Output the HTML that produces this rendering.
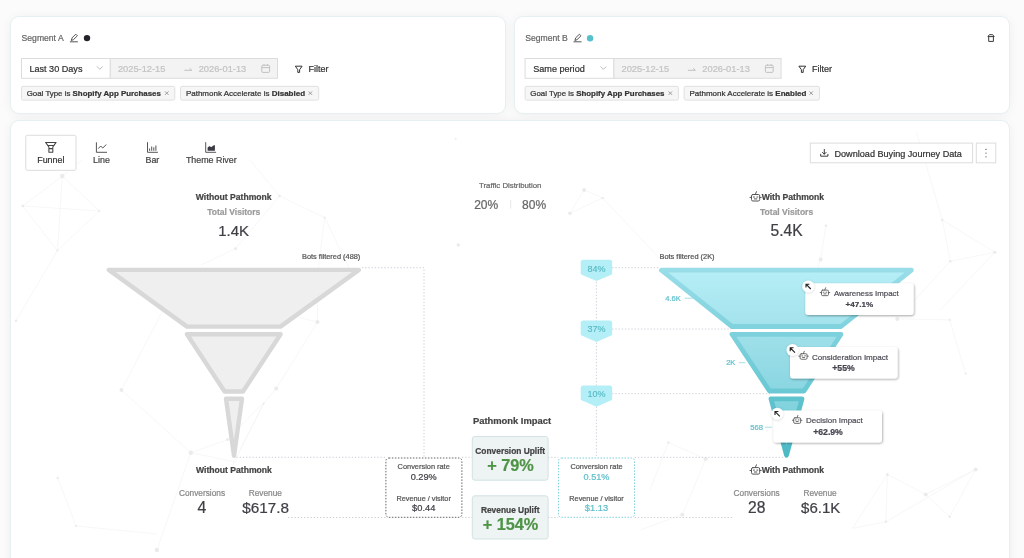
<!DOCTYPE html>
<html><head><meta charset="utf-8">
<style>
html,body{margin:0;padding:0;width:1024px;height:558px;overflow:hidden;background:#fbfbfb;font-family:"Liberation Sans",sans-serif;}
.card{position:absolute;background:#fff;border-radius:8px;box-shadow:0 0 0 1px #e6eff1,0 1px 12px rgba(0,0,0,0.06);}
svg{position:absolute;left:0;top:0;will-change:transform;}
text{font-family:"Liberation Sans",sans-serif;}
</style></head><body>
<div class="card" style="left:11px;top:17px;width:494px;height:95.5px;"></div>
<div class="card" style="left:515px;top:17px;width:493.5px;height:95.5px;"></div>
<div class="card" style="left:11px;top:121px;width:997.5px;height:460px;"></div>
<svg width="1024" height="558" viewBox="0 0 1024 558">
<defs>
  <g id="robot" fill="none" stroke="#555" stroke-width="1" stroke-linecap="round" stroke-linejoin="round">
    <rect x="2" y="3.2" width="8.2" height="6.5" rx="1.4"/>
    <path d="M5.8 3.2L6.9 0.4"/>
    <path d="M0.5 6.1h1.3M10.4 6.1h1.3"/>
    <path d="M3.9 5.7h1M7.3 5.7h1"/>
    <path d="M4.9 7.6h2.4"/>
  </g>
  <linearGradient id="t1" x1="0" y1="0" x2="0" y2="1"><stop offset="0" stop-color="#b6eef6"/><stop offset="1" stop-color="#a3e2ec"/></linearGradient>
  <linearGradient id="t2" x1="0" y1="0" x2="0" y2="1"><stop offset="0" stop-color="#9fe0ea"/><stop offset="1" stop-color="#8ad6e1"/></linearGradient>
  <linearGradient id="t3" x1="0" y1="0" x2="0" y2="1"><stop offset="0" stop-color="#86d5df"/><stop offset="1" stop-color="#6cc9d4"/></linearGradient>
  <filter id="tsh" x="-20%" y="-30%" width="140%" height="170%"><feDropShadow dx="0.7" dy="1" stdDeviation="0.9" flood-color="#000" flood-opacity="0.35"/></filter>
  <filter id="csh" x="-50%" y="-50%" width="200%" height="200%"><feDropShadow dx="0" dy="0.5" stdDeviation="0.8" flood-color="#000" flood-opacity="0.2"/></filter>
</defs>

<!-- ============ CARD A ============ -->
<text x="21.6" y="41.4" font-size="8.6" fill="#666" stroke="#666" stroke-width="0.22">Segment A</text>
<g fill="none" stroke="#444" stroke-width="0.9" stroke-linecap="round" stroke-linejoin="round">
  <path d="M71.4 40.1l.7-2.3 3.7-3.6 1.6 1.6-3.7 3.6z"/>
  <path d="M70.3 41.8h7.2"/>
</g>
<circle cx="87" cy="38.1" r="3.2" fill="#23232b"/>
<rect x="21.5" y="58.5" width="88.8" height="19.8" fill="#fff" stroke="#dcdcdc" stroke-width="1"/>
<text x="29.4" y="71.9" font-size="9.1" fill="#333" stroke="#333" stroke-width="0.22">Last 30 Days</text>
<path d="M97 66.5l2.8 2.8 2.8-2.8" fill="none" stroke="#aaa" stroke-width="0.8"/>
<rect x="110.3" y="58.5" width="167.2" height="19.8" fill="#f3f3f3" stroke="#dcdcdc" stroke-width="1"/>
<text x="117.9" y="71.8" font-size="9.3" fill="#c3c3c3" stroke="#c3c3c3" stroke-width="0.22">2025-12-15</text>
<path d="M184.3 70.3h7.5M189.5 68.3l2.3 2" fill="none" stroke="#bbb" stroke-width="0.9"/>
<text x="198.7" y="71.8" font-size="9.3" fill="#c3c3c3" stroke="#c3c3c3" stroke-width="0.22">2026-01-13</text>
<g fill="none" stroke="#bbb" stroke-width="0.9"><rect x="261.8" y="65.2" width="7.8" height="7.2" rx="1"/><path d="M261.8 67.6h7.8M264 64.3v1.6M267.4 64.3v1.6"/></g>
<path d="M295.3 66.2h6.8l-2.5 3.5v2.7h-1.8v-2.7z" fill="none" stroke="#333" stroke-width="1" stroke-linejoin="round"/>
<text x="308.4" y="72" font-size="9" fill="#333" stroke="#333" stroke-width="0.22">Filter</text>
<rect x="21.5" y="86.3" width="153.3" height="13.8" fill="#f6f6f6" stroke="#e0e0e0" stroke-width="1" rx="1.5"/>
<text x="26.7" y="96.2" font-size="7.9" fill="#333" stroke="#333" stroke-width="0.22">Goal Type is <tspan font-weight="bold">Shopify App Purchases</tspan></text>
<path d="M165 91.4l3.5 3.5M168.5 91.4l-3.5 3.5" stroke="#888" stroke-width="0.8"/>
<rect x="180.5" y="86.3" width="138.2" height="13.8" fill="#f6f6f6" stroke="#e0e0e0" stroke-width="1" rx="1.5"/>
<text x="185.9" y="96.2" font-size="8" fill="#333" stroke="#333" stroke-width="0.22">Pathmonk Accelerate is <tspan font-weight="bold">Disabled</tspan></text>
<path d="M308.6 91.4l3.5 3.5M312.1 91.4l-3.5 3.5" stroke="#888" stroke-width="0.8"/>

<!-- ============ CARD B ============ -->
<g transform="translate(503.6,0)">
<text x="21.6" y="41.4" font-size="8.6" fill="#666" stroke="#666" stroke-width="0.22">Segment B</text>
<g fill="none" stroke="#444" stroke-width="0.9" stroke-linecap="round" stroke-linejoin="round">
  <path d="M71.4 40.1l.7-2.3 3.7-3.6 1.6 1.6-3.7 3.6z"/>
  <path d="M70.3 41.8h7.2"/>
</g>
<circle cx="86.5" cy="38.3" r="3.2" fill="#56c0cc"/>
<rect x="21.5" y="58.5" width="88.8" height="19.8" fill="#fff" stroke="#dcdcdc" stroke-width="1"/>
<text x="29.6" y="71.9" font-size="9.1" fill="#333" stroke="#333" stroke-width="0.22">Same period</text>
<path d="M97 66.5l2.8 2.8 2.8-2.8" fill="none" stroke="#aaa" stroke-width="0.8"/>
<rect x="110.3" y="58.5" width="167.2" height="19.8" fill="#f3f3f3" stroke="#dcdcdc" stroke-width="1"/>
<text x="117.9" y="71.8" font-size="9.3" fill="#c3c3c3" stroke="#c3c3c3" stroke-width="0.22">2025-12-15</text>
<path d="M184.3 70.3h7.5M189.5 68.3l2.3 2" fill="none" stroke="#bbb" stroke-width="0.9"/>
<text x="198.7" y="71.8" font-size="9.3" fill="#c3c3c3" stroke="#c3c3c3" stroke-width="0.22">2026-01-13</text>
<g fill="none" stroke="#bbb" stroke-width="0.9"><rect x="261.8" y="65.2" width="7.8" height="7.2" rx="1"/><path d="M261.8 67.6h7.8M264 64.3v1.6M267.4 64.3v1.6"/></g>
<path d="M295.3 66.2h6.8l-2.5 3.5v2.7h-1.8v-2.7z" fill="none" stroke="#333" stroke-width="1" stroke-linejoin="round"/>
<text x="308.4" y="72" font-size="9" fill="#333" stroke="#333" stroke-width="0.22">Filter</text>
<rect x="21.5" y="86.3" width="153.3" height="13.8" fill="#f6f6f6" stroke="#e0e0e0" stroke-width="1" rx="1.5"/>
<text x="26.7" y="96.2" font-size="7.9" fill="#333" stroke="#333" stroke-width="0.22">Goal Type is <tspan font-weight="bold">Shopify App Purchases</tspan></text>
<path d="M165 91.4l3.5 3.5M168.5 91.4l-3.5 3.5" stroke="#888" stroke-width="0.8"/>
<rect x="180.5" y="86.3" width="135.4" height="13.8" fill="#f6f6f6" stroke="#e0e0e0" stroke-width="1" rx="1.5"/>
<text x="185.9" y="96.2" font-size="8" fill="#333" stroke="#333" stroke-width="0.22">Pathmonk Accelerate is <tspan font-weight="bold">Enabled</tspan></text>
<path d="M305.8 91.4l3.5 3.5M309.3 91.4l-3.5 3.5" stroke="#888" stroke-width="0.8"/>
</g>
<g fill="none" stroke="#3a3a3a" stroke-width="1" stroke-linejoin="round">
  <path d="M987.9 36.6l1.5-1.9h3.3l1.5 1.9z"/>
  <path d="M988.7 36.6v4.8h4.7v-4.8"/>
</g>


<!-- ============ NETWORK BG ============ -->
<g stroke="#f3f3f3" stroke-width="0.7" fill="none">
  <path d="M62.3 176.1L22.7 205.9L99.4 211L62.3 176.1L57.4 250.6L22.7 205.9M99.4 211L57.4 250.6L16 320.7M62.3 176.1L82 160"/>
  <path d="M235.6 248.6L201 265M235.6 248.6L279.6 196L324.7 217.6L318 270M279.6 196L250 160M324.7 217.6L350 270"/>
  <path d="M121.4 390L161.7 312.6L185 280M121.4 390L190.8 452.7L227.6 439.6L262 404M190.8 452.7L157 550M57.7 477.9L76.1 526L157 534M190.8 452.7L236 462"/>
  <path d="M317.5 322.1L317.5 295M317.5 322.1L299.4 317.7M317.5 322.1L276.2 388.6L263.6 403.6L240 450M263.6 403.6L230 470"/>
  <path d="M584.1 189.9L602.7 198L569.9 213.3L584.1 189.9M602.7 198L661 259.8"/>
  <path d="M826 225.8L820.6 259.4L815 275M942.3 220L994.8 252.3L950.3 261.3L942.3 220L916.5 132.3M950.3 261.3L914.8 300M994.8 252.3L940 310"/>
  <path d="M897.3 318.9L949.7 319.9L965.6 373.7M887.4 474.4L925.7 494.4L975.6 469.4L949.7 516.8L925.7 494.4M887.4 474.4L885.9 521.8L975.6 469.4M852.5 528.3L887.4 474.4M885.9 521.8L852.5 528.3"/>
  <path d="M705.7 458.9L682.3 514.7L640 530M668.3 442.5L705.7 458.9M668.3 442.5L650 490"/>
</g>
<g fill="#ebebeb">
  <circle cx="62.3" cy="176.1" r="2.3"/><circle cx="22.7" cy="205.9" r="1.3"/><circle cx="99.4" cy="211" r="1.1"/><circle cx="57.4" cy="250.6" r="1.1"/>
  <circle cx="235.6" cy="248.6" r="1.5"/><circle cx="279.6" cy="196" r="1.3"/><circle cx="324.7" cy="217.6" r="1.1"/><circle cx="455.6" cy="138.8" r="1"/><circle cx="458.3" cy="245" r="1.8"/>
  <circle cx="121.4" cy="390" r="1.9"/><circle cx="16" cy="320.7" r="1.2"/><circle cx="190.8" cy="452.7" r="2.2"/><circle cx="227.6" cy="439.6" r="1.4"/><circle cx="57.7" cy="477.9" r="1.2"/><circle cx="76.1" cy="526" r="1.1"/><circle cx="156.9" cy="550" r="2.2"/>
  <circle cx="317.5" cy="322.1" r="2"/><circle cx="276.2" cy="388.6" r="2"/><circle cx="263.6" cy="403.6" r="1.1"/>
  <circle cx="584.1" cy="189.9" r="2"/><circle cx="602.7" cy="198" r="1.2"/><circle cx="569.9" cy="213.3" r="1.8"/>
  <circle cx="826" cy="225.8" r="1.3"/><circle cx="820.6" cy="259.4" r="2"/><circle cx="942.3" cy="220" r="1.3"/><circle cx="994.8" cy="252.3" r="1.5"/><circle cx="950.3" cy="261.3" r="1.3"/>
  <circle cx="897.3" cy="318.9" r="2"/><circle cx="949.7" cy="319.9" r="1.1"/><circle cx="965.6" cy="373.7" r="1.1"/><circle cx="887.4" cy="474.4" r="1.5"/><circle cx="925.7" cy="494.4" r="2"/><circle cx="975.6" cy="469.4" r="2"/><circle cx="949.7" cy="516.8" r="1.2"/><circle cx="885.9" cy="521.8" r="1.2"/>
  <circle cx="705.7" cy="458.9" r="2"/><circle cx="682.3" cy="514.7" r="2"/><circle cx="668.3" cy="442.5" r="1.2"/>
</g>

<!-- ============ MAIN CARD ============ -->
<!-- tabs -->
<rect x="25.8" y="135.3" width="50.2" height="35" rx="1.5" fill="#fff" stroke="#dcdcdc" stroke-width="1"/>
<g fill="none" stroke="#444" stroke-width="1.05" stroke-linejoin="round">
  <path d="M45.6 142.4h10.5l-3.3 4.6v5.2h-3.9v-5.2z"/>
  <path d="M47.6 145.4h6.5M49 148.6h3.7"/>
</g>
<text x="50.8" y="162.6" font-size="8.9" fill="#333" text-anchor="middle" stroke="#333" stroke-width="0.22">Funnel</text>
<g fill="none" stroke="#555" stroke-width="1">
  <path d="M96.4 142.3v10h10.6"/>
  <path d="M98.3 148.6l2.4-2.6 2 2 3.7-3.5"/>
</g>
<text x="101.5" y="162.6" font-size="8.9" fill="#444" text-anchor="middle" stroke="#444" stroke-width="0.22">Line</text>
<g fill="none" stroke="#555" stroke-width="1">
  <path d="M147.5 142.2v10.1h10.4"/>
  <path d="M149.6 148.5v2.3M151.7 146.5v4.3M153.8 147.3v3.5M155.9 145.5v5.3"/>
</g>
<text x="152.4" y="162.6" font-size="8.9" fill="#444" text-anchor="middle" stroke="#444" stroke-width="0.22">Bar</text>
<g fill="none" stroke="#555" stroke-width="1"><path d="M205.7 142.2v10.1h10.4"/></g>
<path d="M207.6 150.8v-3.3l2-1.5 1.6 1.3 1.8-1.6 1.9-.8v5.9z" fill="#3a3a44"/>
<text x="211.3" y="162.6" font-size="8.9" fill="#444" text-anchor="middle" stroke="#444" stroke-width="0.22">Theme River</text>

<!-- download button -->
<rect x="810.3" y="143.1" width="162.3" height="19.7" fill="#fff" stroke="#dcdcdc" stroke-width="1"/>
<g fill="none" stroke="#333" stroke-width="0.95" stroke-linecap="round" stroke-linejoin="round">
  <path d="M824.3 149.4v4.8M822.5 152.4l1.8 1.8 1.8-1.8M820.7 154.3v1.9h7.2v-1.9"/>
</g>
<text x="834.5" y="156.9" font-size="9.1" fill="#333" stroke="#333" stroke-width="0.22">Download Buying Journey Data</text>
<rect x="976.3" y="143.1" width="19.5" height="19.7" fill="#fff" stroke="#dcdcdc" stroke-width="1"/>
<g fill="#555"><circle cx="986" cy="149.4" r="0.65"/><circle cx="986" cy="153.1" r="0.65"/><circle cx="986" cy="156.8" r="0.65"/></g>

<!-- headers -->
<text x="233.7" y="200.2" font-size="8.6" font-weight="bold" fill="#444" text-anchor="middle" stroke="#444" stroke-width="0.22">Without Pathmonk</text>
<text x="233.8" y="215.1" font-size="8.5" font-weight="bold" fill="#9b9b9b" text-anchor="middle" stroke="#9b9b9b" stroke-width="0.22">Total Visitors</text>
<text x="233.6" y="235.8" font-size="15" fill="#3f3f46" text-anchor="middle" stroke="#3f3f46" stroke-width="0.22">1.4K</text>

<use href="#robot" x="749.5" y="191.3"/>
<text x="761.7" y="200" font-size="8.6" font-weight="bold" fill="#444" stroke="#444" stroke-width="0.22">With Pathmonk</text>
<text x="786.6" y="215.1" font-size="8.5" font-weight="bold" fill="#9b9b9b" text-anchor="middle" stroke="#9b9b9b" stroke-width="0.22">Total Visitors</text>
<text x="786.5" y="236.1" font-size="15.6" fill="#3f3f46" text-anchor="middle" stroke="#3f3f46" stroke-width="0.22">5.4K</text>

<text x="510.2" y="188" font-size="7.8" fill="#666" text-anchor="middle" stroke="#666" stroke-width="0.22">Traffic Distribution</text>
<text x="486.2" y="208.7" font-size="12" fill="#666" text-anchor="middle" stroke="#666" stroke-width="0.22">20%</text>
<text x="534.1" y="208.7" font-size="12" fill="#666" text-anchor="middle" stroke="#666" stroke-width="0.22">80%</text>
<path d="M510.7 200v8.5" stroke="#e6e6e6" stroke-width="1"/>

<text x="302" y="259.2" font-size="7.4" fill="#555" stroke="#555" stroke-width="0.22">Bots filtered (488)</text>
<text x="659.5" y="259.2" font-size="7.4" fill="#555" stroke="#555" stroke-width="0.22">Bots filtered (2K)</text>

<!-- dotted lines -->
<g fill="none" stroke="#ceced8" stroke-width="1" stroke-dasharray="1.3 1.9">
  <path d="M362 267.7H424V457.3"/>
  <path d="M236.5 457.3H385.5M462 457.3H472M548 457.3H558.3M634.7 457.3H786"/>
  <path d="M288 517.5H385.5M462 517.5H472M548 517.5H558.3M634.7 517.5H732"/>
  <path d="M612.2 267.7H660M612.2 329H731M612.2 393.7H770"/>
  <path d="M596.4 282V457.3"/>
</g>

<!-- gray funnel -->
<g fill="#efefef" stroke="#d8d8d8" stroke-width="4.4" stroke-linejoin="round">
  <path d="M108.8 269.9H358.9L280.5 326.6H187z"/>
  <path d="M187 334.2H280.6L243 391.5H224.6z"/>
  <path d="M226 398.7H242L234 455.8z"/>
</g>

<!-- teal funnel -->
<linearGradient id="s1" x1="0" y1="0" x2="0" y2="1"><stop offset="0" stop-color="#98dde8"/><stop offset="1" stop-color="#80d3de"/></linearGradient>
<linearGradient id="s2" x1="0" y1="0" x2="0" y2="1"><stop offset="0" stop-color="#7dd1dc"/><stop offset="1" stop-color="#6ac9d4"/></linearGradient>
<linearGradient id="s3" x1="0" y1="0" x2="0" y2="1"><stop offset="0" stop-color="#5fc3ce"/><stop offset="1" stop-color="#4cb9c5"/></linearGradient>
<g stroke-width="4.8" stroke-linejoin="round">
  <path d="M661.4 270.2H911.4L841 326.5H732z" fill="url(#t1)" stroke="url(#s1)"/>
  <path d="M732 334.3H841L804 391H769.5z" fill="url(#t2)" stroke="url(#s2)"/>
  <path d="M771 398.8H802L786.5 455.2z" fill="url(#t3)" stroke="url(#s3)"/>
</g>

<!-- teal labels -->
<text x="673" y="300.8" font-size="7.6" fill="#5fc0cb" text-anchor="middle" stroke="#5fc0cb" stroke-width="0.22">4.6K</text>
<path d="M684.5 298.2h8.5" stroke="#9fdce5" stroke-width="0.9"/>
<text x="730.8" y="365.2" font-size="7.6" fill="#5fc0cb" text-anchor="middle" stroke="#5fc0cb" stroke-width="0.22">2K</text>
<path d="M738.9 362.7h6.5" stroke="#9fdce5" stroke-width="0.9"/>
<text x="756.7" y="429.6" font-size="7.6" fill="#5fc0cb" text-anchor="middle" stroke="#5fc0cb" stroke-width="0.22">568</text>
<path d="M765 427.2h7" stroke="#9fdce5" stroke-width="0.9"/>

<!-- badges -->
<g fill="#b4eef6">
  <path d="M583.2 259.8H609.7A2.5 2.5 0 0 1 612.2 262.3V273.1Q612.2 274.2 611.2 274.7L596.45 281.1L581.7 274.7Q580.7 274.2 580.7 273.1V262.3A2.5 2.5 0 0 1 583.2 259.8z"/>
  <path d="M583.2 320.6H609.7A2.5 2.5 0 0 1 612.2 323.1V333.9Q612.2 335.0 611.2 335.5L596.45 341.9L581.7 335.5Q580.7 335.0 580.7 333.9V323.1A2.5 2.5 0 0 1 583.2 320.6z"/>
  <path d="M583.2 385.4H609.7A2.5 2.5 0 0 1 612.2 387.9V398.7Q612.2 399.8 611.2 400.3L596.45 406.7L581.7 400.3Q580.7 399.8 580.7 398.7V387.9A2.5 2.5 0 0 1 583.2 385.4z"/>
</g>
<g font-size="9" fill="#55b9c4" stroke="#55b9c4" stroke-width="0.12" text-anchor="middle">
  <text x="596.4" y="271.5">84%</text>
  <text x="596.4" y="332.3">37%</text>
  <text x="596.4" y="397">10%</text>
</g>

<!-- bottom stats -->
<text x="234" y="472.7" font-size="8.6" font-weight="bold" fill="#444" text-anchor="middle" stroke="#444" stroke-width="0.22">Without Pathmonk</text>
<text x="202" y="496" font-size="8.3" fill="#888" text-anchor="middle" stroke="#888" stroke-width="0.22">Conversions</text>
<text x="265.3" y="496" font-size="8.3" fill="#888" text-anchor="middle" stroke="#888" stroke-width="0.22">Revenue</text>
<text x="202" y="512.8" font-size="15.8" fill="#3f3f46" text-anchor="middle" stroke="#3f3f46" stroke-width="0.22">4</text>
<text x="265.7" y="512.8" font-size="15.3" fill="#3f3f46" text-anchor="middle" stroke="#3f3f46" stroke-width="0.22">$617.8</text>

<use href="#robot" x="749.5" y="464.4"/>
<text x="761.7" y="472.8" font-size="8.6" font-weight="bold" fill="#444" stroke="#444" stroke-width="0.22">With Pathmonk</text>
<text x="756.6" y="495.8" font-size="8.3" fill="#888" text-anchor="middle" stroke="#888" stroke-width="0.22">Conversions</text>
<text x="820.1" y="495.8" font-size="8.3" fill="#888" text-anchor="middle" stroke="#888" stroke-width="0.22">Revenue</text>
<text x="756.7" y="512.7" font-size="15.6" fill="#3f3f46" text-anchor="middle" stroke="#3f3f46" stroke-width="0.22">28</text>
<text x="820.7" y="512.7" font-size="15" fill="#3f3f46" text-anchor="middle" stroke="#3f3f46" stroke-width="0.22">$6.1K</text>

<!-- rate boxes -->
<rect x="385.9" y="458" width="76" height="59.3" rx="3" fill="#fff" stroke="#555" stroke-width="0.9" stroke-dasharray="1.5 1.5"/>
<text x="423.7" y="468.8" font-size="7.4" fill="#555" text-anchor="middle" stroke="#555" stroke-width="0.22">Conversion rate</text>
<text x="423.7" y="479.8" font-size="9.2" fill="#3f3f46" text-anchor="middle" stroke="#3f3f46" stroke-width="0.22">0.29%</text>
<text x="423.7" y="501.3" font-size="7.3" fill="#555" text-anchor="middle" stroke="#555" stroke-width="0.22">Revenue / visitor</text>
<text x="423.7" y="511.2" font-size="9.3" fill="#3f3f46" text-anchor="middle" stroke="#3f3f46" stroke-width="0.22">$0.44</text>

<rect x="558.5" y="458" width="76" height="59.3" rx="3" fill="#fff" stroke="#73cdd8" stroke-width="0.9" stroke-dasharray="1.5 1.5"/>
<text x="596.5" y="468.8" font-size="7.4" fill="#555" text-anchor="middle" stroke="#555" stroke-width="0.22">Conversion rate</text>
<text x="596.5" y="479.8" font-size="9.2" fill="#5fc0cb" text-anchor="middle" stroke="#5fc0cb" stroke-width="0.22">0.51%</text>
<text x="596.5" y="501.3" font-size="7.3" fill="#555" text-anchor="middle" stroke="#555" stroke-width="0.22">Revenue / visitor</text>
<text x="596.5" y="511.2" font-size="9.3" fill="#5fc0cb" text-anchor="middle" stroke="#5fc0cb" stroke-width="0.22">$1.13</text>

<!-- impact -->
<text x="512" y="423.8" font-size="9.4" font-weight="bold" fill="#444" text-anchor="middle" stroke="#444" stroke-width="0.22">Pathmonk Impact</text>
<rect x="472.3" y="436.5" width="75.8" height="43.7" rx="2.5" fill="#eef3f3" stroke="#d3e2e2" stroke-width="1"/>
<text x="510.2" y="453.9" font-size="8.4" font-weight="bold" fill="#444" text-anchor="middle" stroke="#444" stroke-width="0.22">Conversion Uplift</text>
<text x="510.5" y="470.7" font-size="16.3" font-weight="bold" fill="#4f9347" text-anchor="middle" stroke="#4f9347" stroke-width="0.22">+ 79%</text>
<rect x="472.3" y="495.8" width="75.8" height="43.2" rx="2.5" fill="#eef3f3" stroke="#d3e2e2" stroke-width="1"/>
<text x="510.2" y="513.3" font-size="8.4" font-weight="bold" fill="#444" text-anchor="middle" stroke="#444" stroke-width="0.22">Revenue Uplift</text>
<text x="510.5" y="530.3" font-size="16.3" font-weight="bold" fill="#4f9347" text-anchor="middle" stroke="#4f9347" stroke-width="0.22">+ 154%</text>

<!-- tooltips -->
<g>
  <rect x="805.3" y="283.3" width="108.3" height="31.6" rx="3" fill="#fff" filter="url(#tsh)"/>
  <use href="#robot" transform="translate(819.8 287.4) scale(0.85)"/>
  <text x="834" y="296" font-size="7.9" fill="#50505a" stroke="#50505a" stroke-width="0.22">Awareness Impact</text>
  <text x="859.3" y="307.4" font-size="8.1" font-weight="bold" fill="#45454f" text-anchor="middle" stroke="#45454f" stroke-width="0.22">+47.1%</text>
  <circle cx="808.3" cy="286.4" r="6" fill="#fff" filter="url(#csh)"/>
  <path d="M810.8 289l-4.6-4.6M806 287.6v-3.4h3.4" fill="none" stroke="#222" stroke-width="1.1"/>
</g>
<g>
  <rect x="790" y="347" width="107.6" height="31.6" rx="3" fill="#fff" filter="url(#tsh)"/>
  <use href="#robot" transform="translate(798.4 351) scale(0.85)"/>
  <text x="812" y="359.9" font-size="8.05" fill="#50505a" stroke="#50505a" stroke-width="0.22">Consideration Impact</text>
  <text x="843.5" y="370.8" font-size="8.7" font-weight="bold" fill="#45454f" text-anchor="middle" stroke="#45454f" stroke-width="0.22">+55%</text>
  <circle cx="792.5" cy="350" r="6" fill="#fff" filter="url(#csh)"/>
  <path d="M795 352.6l-4.6-4.6M790.2 351.2v-3.4h3.4" fill="none" stroke="#222" stroke-width="1.1"/>
</g>
<g>
  <rect x="773.4" y="410.4" width="108.6" height="32.2" rx="3" fill="#fff" filter="url(#tsh)"/>
  <use href="#robot" transform="translate(792 415.1) scale(0.85)"/>
  <text x="806" y="423.2" font-size="7.97" fill="#50505a" stroke="#50505a" stroke-width="0.22">Decision Impact</text>
  <text x="828" y="434.8" font-size="8.7" font-weight="bold" fill="#45454f" text-anchor="middle" stroke="#45454f" stroke-width="0.22">+62.9%</text>
  <circle cx="777.3" cy="413.7" r="6" fill="#fff" filter="url(#csh)"/>
  <path d="M779.8 416.3l-4.6-4.6M775 414.9v-3.4h3.4" fill="none" stroke="#222" stroke-width="1.1"/>
</g>

</svg>
</body></html>
